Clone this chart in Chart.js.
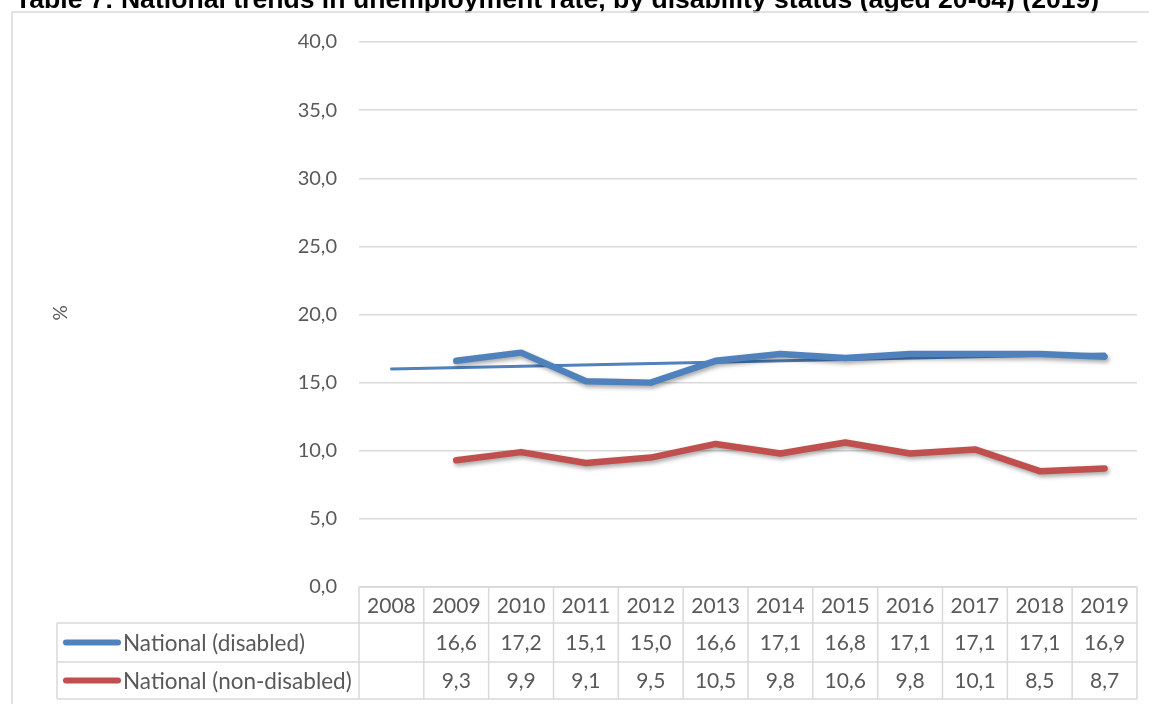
<!DOCTYPE html>
<html>
<head>
<meta charset="utf-8">
<script src="https://cdn.jsdelivr.net/npm/chart.js@4.4.0/dist/chart.umd.min.js"></script>
<style>
  html, body { margin: 0; padding: 0; background: #fff; overflow: hidden; }
  #chart { display: block; }
</style>
</head>
<body>
<canvas id="chart" width="1149" height="704"></canvas>
<script>
// data
var years = ['2008', '2009', '2010', '2011', '2012', '2013', '2014', '2015', '2016', '2017', '2018', '2019'];
var disabled = [null, 16.6, 17.2, 15.1, 15.0, 16.6, 17.1, 16.8, 17.1, 17.1, 17.1, 16.9];
var nonDisabled = [null, 9.3, 9.9, 9.1, 9.5, 10.5, 9.8, 10.6, 9.8, 10.1, 8.5, 8.7];
// linear trendline of the disabled series, ends
var trendDisabled = [16.0, null, null, null, null, null, null, null, null, null, null, 17.1];
var seriesNames = ['National (disabled)', 'National (non-disabled)'];
var title = 'Table 7: National trends in unemployment rate, by disability status (aged 20-64) (2019)';

var blue = '#4f81bd';
var red = '#c0504d';
var grey = '#595959';
var lineGrey = '#d9d9d9';

function fmt(v) {
  return v.toFixed(1).replace('.', ',');
}

Chart.defaults.font.family = 'Lato, "Noto Sans", sans-serif';
Chart.defaults.font.size = 20;
Chart.defaults.color = grey;

// soft shadow under the thick lines, like the excel chart
var shadowPlugin = {
  id: 'shadow',
  beforeDatasetDraw: function(chart, args) {
    var ctx = chart.ctx;
    ctx.save();
    if (args.index < 2) {
      ctx.shadowColor = 'rgba(0,0,0,0.35)';
      ctx.shadowBlur = 4;
      ctx.shadowOffsetX = 1.5;
      ctx.shadowOffsetY = 2.5;
    }
  },
  afterDatasetDraw: function(chart) {
    chart.ctx.restore();
  }
};

// title, frame, axis title and the data table under the plot
var tablePlugin = {
  id: 'dataTable',
  afterDraw: function(chart) {
    var ctx = chart.ctx;
    var x = chart.scales.x;
    var half = (x.getPixelForValue(1) - x.getPixelForValue(0)) / 2;
    var left = x.getPixelForValue(0) - half;
    var right = x.getPixelForValue(years.length - 1) + half;
    var rows = [587, 623, 662, 699];
    var labelLeft = 57;

    ctx.save();

    // title (cut at the top like the original)
    ctx.fillStyle = '#000';
    ctx.font = 'bold 26.6px "Liberation Sans", Arial, sans-serif';
    ctx.textAlign = 'left';
    ctx.textBaseline = 'alphabetic';
    ctx.fillText(title, 15, 8);

    // outer frame
    ctx.strokeStyle = lineGrey;
    ctx.lineWidth = 1.5;
    ctx.strokeRect(12, 12, 1160, 720);

    // % axis title
    ctx.fillStyle = grey;
    ctx.font = '19px Lato, sans-serif';
    ctx.translate(61, 313);
    ctx.rotate(-Math.PI / 2);
    ctx.textAlign = 'center';
    ctx.textBaseline = 'middle';
    ctx.fillText('%', 0, 0);
    ctx.setTransform(1, 0, 0, 1, 0, 0);

    // table grid
    ctx.strokeStyle = lineGrey;
    ctx.lineWidth = 1.5;
    ctx.beginPath();
    ctx.moveTo(left, rows[0]); ctx.lineTo(right, rows[0]);
    for (var r = 1; r < rows.length; r++) {
      ctx.moveTo(labelLeft, rows[r]); ctx.lineTo(right, rows[r]);
    }
    ctx.moveTo(labelLeft, rows[1]); ctx.lineTo(labelLeft, rows[3]);
    for (var i = 0; i <= years.length; i++) {
      var cx = left + i * half * 2;
      ctx.moveTo(cx, rows[0]); ctx.lineTo(cx, rows[3]);
    }
    ctx.stroke();

    // header + values
    ctx.fillStyle = grey;
    ctx.font = '21px Lato, sans-serif';
    ctx.textAlign = 'center';
    ctx.textBaseline = 'middle';
    var series = [disabled, nonDisabled];
    years.forEach(function(y, i) {
      var px = x.getPixelForValue(i);
      ctx.fillText(y, px, (rows[0] + rows[1]) / 2 + 1);
      series.forEach(function(s, k) {
        if (s[i] !== null) ctx.fillText(fmt(s[i]), px, (rows[k + 1] + rows[k + 2]) / 2 + 1);
      });
    });

    // legend keys in the first column
    var colours = [blue, red];
    ctx.font = '22.5px Lato, sans-serif';
    seriesNames.forEach(function(name, k) {
      var cy = (rows[k + 1] + rows[k + 2]) / 2;
      ctx.strokeStyle = colours[k];
      ctx.lineWidth = 6;
      ctx.lineCap = 'round';
      ctx.beginPath();
      ctx.moveTo(66, cy); ctx.lineTo(118, cy);
      ctx.stroke();
      ctx.textAlign = 'left';
      ctx.fillText(name, 123, cy + 1);
    });

    ctx.restore();
  }
};

var ctx = document.getElementById('chart');
var chart = new Chart(ctx, {
  type: 'line',
  data: {
    labels: years,
    datasets: [
      {
        label: seriesNames[0],
        data: disabled,
        borderColor: blue,
        backgroundColor: blue,
        borderWidth: 6.5,
        borderCapStyle: 'round',
        borderJoinStyle: 'round',
        pointRadius: 0,
        tension: 0
      },
      {
        label: seriesNames[1],
        data: nonDisabled,
        borderColor: red,
        backgroundColor: red,
        borderWidth: 6.5,
        borderCapStyle: 'round',
        borderJoinStyle: 'round',
        pointRadius: 0,
        tension: 0
      },
      {
        label: 'Linear (National (disabled))',
        data: trendDisabled,
        borderColor: blue,
        borderWidth: 2.8,
        borderCapStyle: 'round',
        pointRadius: 0,
        spanGaps: true
      }
    ]
  },
  options: {
    responsive: false,
    animation: false,
    layout: { padding: { left: 0, top: 42, right: 12, bottom: 117 } },
    plugins: {
      legend: { display: false },
      title: { display: false },
      tooltip: { enabled: false }
    },
    scales: {
      x: {
        display: false,
        offset: true
      },
      y: {
        min: 0,
        max: 40,
        afterFit: function(scale) { scale.width = 359; },
        border: { display: false },
        grid: { color: lineGrey, lineWidth: 1.5, drawTicks: false },
        ticks: {
          stepSize: 5,
          padding: 22,
          color: grey,
          font: { size: 20 },
          callback: function(v) { return fmt(v); }
        }
      }
    }
  },
  plugins: [shadowPlugin, tablePlugin]
});
</script>
</body>
</html>
